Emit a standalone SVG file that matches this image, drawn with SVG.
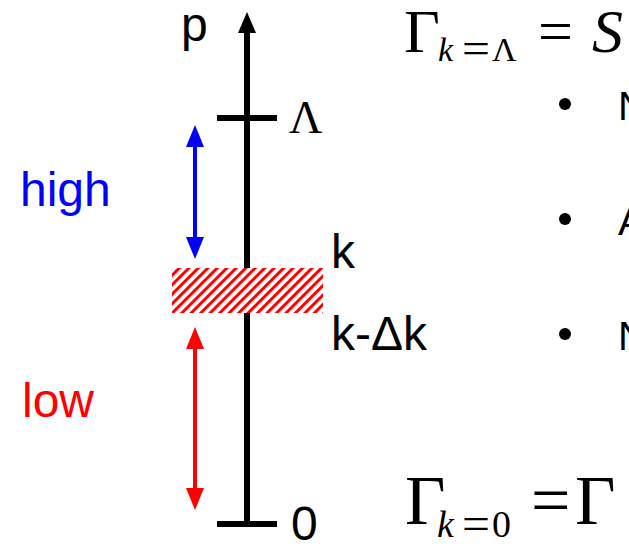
<svg xmlns="http://www.w3.org/2000/svg" width="629" height="544" viewBox="0 0 629 544">
<style>
.sans{font-family:"Liberation Sans",Arial,sans-serif;}
.serif{font-family:"Liberation Serif","Times New Roman",serif;}
.it{font-style:italic;}
.ax{stroke:#000;stroke-width:6;fill:none;}
</style>
<defs>
<pattern id="hatch" patternUnits="userSpaceOnUse" width="6.7" height="6.7" patternTransform="rotate(45)">
<rect width="6.7" height="6.7" fill="#fff"/>
<line x1="1.5" y1="0" x2="1.5" y2="6.7" stroke="#ff0000" stroke-width="3"/>
</pattern>
</defs>
<rect width="629" height="544" fill="#fff"/>
<g id="axis">
<line class="ax" x1="247" y1="524" x2="247" y2="30"/>
<polygon points="247,12 238,33 256,33" fill="#000"/>
<line class="ax" x1="217" y1="118" x2="277" y2="118"/>
<line class="ax" x1="217" y1="524" x2="277" y2="524"/>
<text class="sans" x="181" y="41" font-size="48">p</text>
<text class="serif" x="289" y="133" font-size="46">Λ</text>
<text class="sans" x="331" y="268" font-size="48">k</text>
<text class="sans" x="331" y="350" font-size="48">k-Δk</text>
<text class="sans" x="291" y="540" font-size="48">0</text>
</g>
<g id="shell">
<rect x="172" y="268" width="151" height="45" fill="url(#hatch)"/>
</g>
<g id="connectors">
<line x1="195" y1="142" x2="195" y2="242" stroke="#0000ff" stroke-width="4"/>
<polygon points="195,125 186,147 204,147" fill="#0000ff"/>
<polygon points="195,259 186,237 204,237" fill="#0000ff"/>
<line x1="195" y1="344" x2="195" y2="494" stroke="#ff0000" stroke-width="4"/>
<polygon points="195,327 186,349 204,349" fill="#ff0000"/>
<polygon points="195,510 186,488 204,488" fill="#ff0000"/>
</g>
<g id="high">
<text class="sans" x="20" y="206" font-size="48" fill="#0000ff">high</text>
</g>
<g id="low">
<text class="sans" x="22" y="417" font-size="48" fill="#ff0000">low</text>
</g>
<g id="formula-top">
<text class="serif" x="404" y="52" font-size="62">Γ</text>
<text class="serif it" x="438" y="61" font-size="34">k</text>
<text class="serif" x="462" y="63" font-size="44" textLength="28" lengthAdjust="spacingAndGlyphs">=</text>
<text class="serif" x="492" y="61" font-size="34">Λ</text>
<text class="serif" x="538" y="52" font-size="62">=</text>
<text class="serif it" x="592" y="52" font-size="62">S</text>
</g>
<g id="bullets">
<circle cx="565" cy="104" r="6" fill="#000"/>
<text class="sans" x="618" y="120" font-size="40">N</text>
<circle cx="565" cy="219" r="6" fill="#000"/>
<text class="sans" x="618" y="235" font-size="40">A</text>
<circle cx="565" cy="334" r="6" fill="#000"/>
<text class="sans" x="618" y="350" font-size="40">N</text>
</g>
<g id="formula-bottom">
<text class="serif" x="405" y="524" font-size="70">Γ</text>
<text class="serif it" x="437" y="537" font-size="38">k</text>
<text class="serif" x="462" y="539" font-size="46" textLength="28" lengthAdjust="spacingAndGlyphs">=</text>
<text class="serif" x="492" y="537" font-size="38">0</text>
<text class="serif" x="531" y="524" font-size="70">=</text>
<text class="serif" x="575" y="524" font-size="70">Γ</text>
</g>
</svg>
